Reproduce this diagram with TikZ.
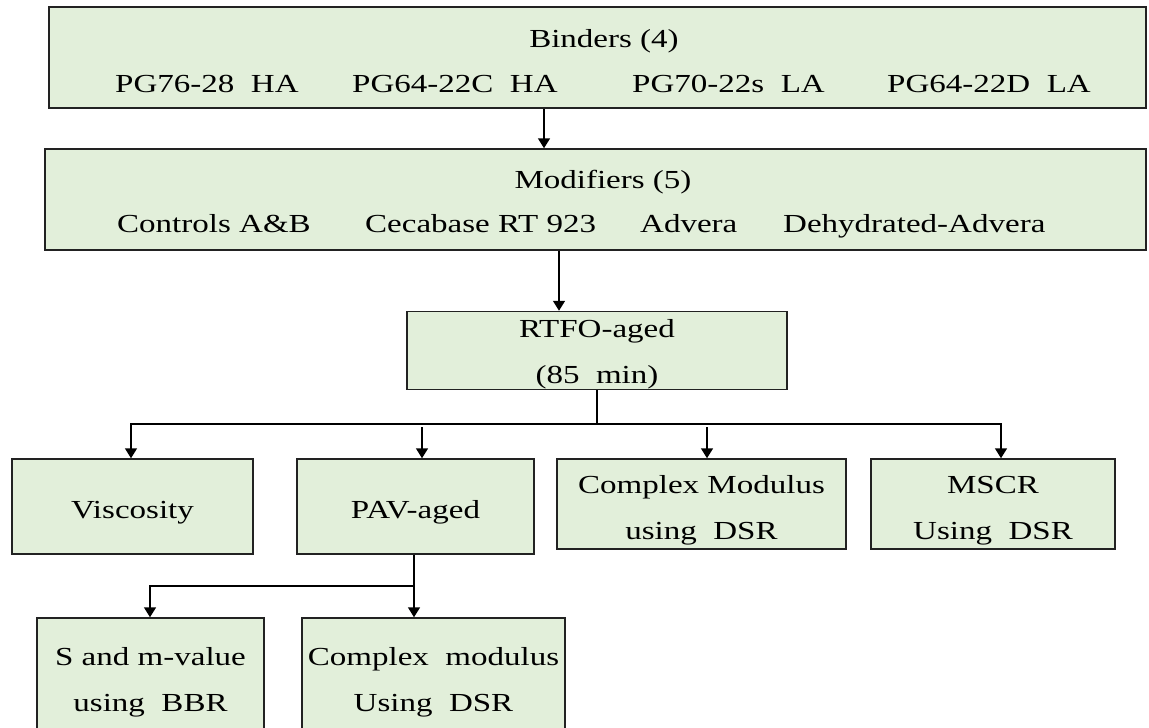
\documentclass[tikz,border=0pt]{standalone}
\usepackage{fontspec}
\setmainfont{Liberation Serif}[FakeStretch=1.27]
\usetikzlibrary{arrows.meta}
\definecolor{boxgreen}{HTML}{E2EFDA}
\definecolor{edge}{HTML}{222222}
\newcommand{\toprl}[1]{\rule{0pt}{#1pt}}
\newcommand{\botrl}{\rule[-6pt]{0pt}{6pt}}
\tikzset{
  box/.style={draw=edge, fill=boxgreen, line width=1.5pt, rectangle, inner sep=0pt, align=center,
    font=\fontsize{26}{46}\selectfont},
  lbl/.style={inner sep=0pt, font=\fontsize{26}{31}\selectfont},
  conn/.style={draw=black, line width=1.6pt},
  arr/.style={conn, -{Triangle[length=10pt,width=12pt]}},
}
\begin{document}
\begin{tikzpicture}[x=1pt,y=-1pt]
\useasboundingbox (0,0) rectangle (1149,728);
\fill[white] (0,0) rectangle (1149,728);
\clip (0,0) rectangle (1149,728);

% boxes
\node[box, minimum width=1097pt, minimum height=101pt] (binders) at (597.5,57.5) {};
\node[box, minimum width=1101pt, minimum height=101pt] (modifiers) at (595.5,199.5) {};
\node[box, minimum width=380pt, minimum height=77pt] (rtfo) at (597,350.5) {\toprl{26}RTFO-aged\\(85\ \ min)\botrl};
\node[box, minimum width=241pt, minimum height=95pt] (visc) at (132.5,506.5) {\toprl{30}Viscosity\rule[-7pt]{0pt}{7pt}};
\node[box, minimum width=237pt, minimum height=95pt] (pav) at (415.5,506.5) {\toprl{30}PAV-aged\rule[-7pt]{0pt}{7pt}};
\node[box, minimum width=289pt, minimum height=90pt] (cm) at (701.5,504) {\toprl{31}Complex Modulus\\using\ \ DSR\botrl};
\node[box, minimum width=244pt, minimum height=90pt] (mscr) at (993,504) {\toprl{31}MSCR\\Using\ \ DSR\botrl};
\node[box, minimum width=227pt, minimum height=122pt] (sbox) at (150.5,679) {\toprl{24}S and m-value\\using\ \ BBR\botrl};
\node[box, minimum width=263pt, minimum height=122pt] (cmtwo) at (433.5,679) {\toprl{24}Complex\ \ modulus\\Using\ \ DSR\botrl};

% texts of the two wide boxes
\node[lbl, anchor=base] (bt) at (604,47) {Binders (4)};
\node[lbl, anchor=base west] (b1) at (115,92) {PG76-28\ \ HA};
\node[lbl, anchor=base west] (b2) at (352,92) {PG64-22C\ \ HA};
\node[lbl, anchor=base west] (b3) at (632,92) {PG70-22s\ \ LA};
\node[lbl, anchor=base west] (b4) at (887,92) {PG64-22D\ \ LA};
\node[lbl, anchor=base] (mt) at (603,188) {Modifiers (5)};
\node[lbl, anchor=base west] (m1) at (117,232) {Controls\ A\&B};
\node[lbl, anchor=base west] (m2) at (365,232) {Cecabase\ RT 923};
\node[lbl, anchor=base west] (m3) at (640,232) {Advera};
\node[lbl, anchor=base west] (m4) at (783,232) {Dehydrated-Advera};

% connectors
\draw[arr] ([xshift=-53.5pt]binders.south) coordinate (bs) -- (bs |- modifiers.north);
\draw[arr] ([xshift=-36.5pt]modifiers.south) coordinate (ms) -- (ms |- rtfo.north);

\coordinate (jr) at (597,424);
\draw[conn] (rtfo.south) -- (jr);
\draw[arr] (jr) -| ([xshift=-1.5pt]visc.north);
\draw[arr] (jr) -| ([xshift=8pt]mscr.north);
\draw[arr] ([xshift=6.5pt,yshift=31pt]pav.north) -- ([xshift=6.5pt]pav.north);
\draw[arr] ([xshift=5.5pt,yshift=31pt]cm.north) -- ([xshift=5.5pt]cm.north);

\coordinate (jp) at (414,586);
\draw[conn] ([xshift=-1.5pt]pav.south) -- (jp);
\draw[arr] (jp) -| ([xshift=-0.5pt]sbox.north);
\draw[arr] (jp) -- ([xshift=-19.5pt]cmtwo.north);
\end{tikzpicture}
\end{document}
